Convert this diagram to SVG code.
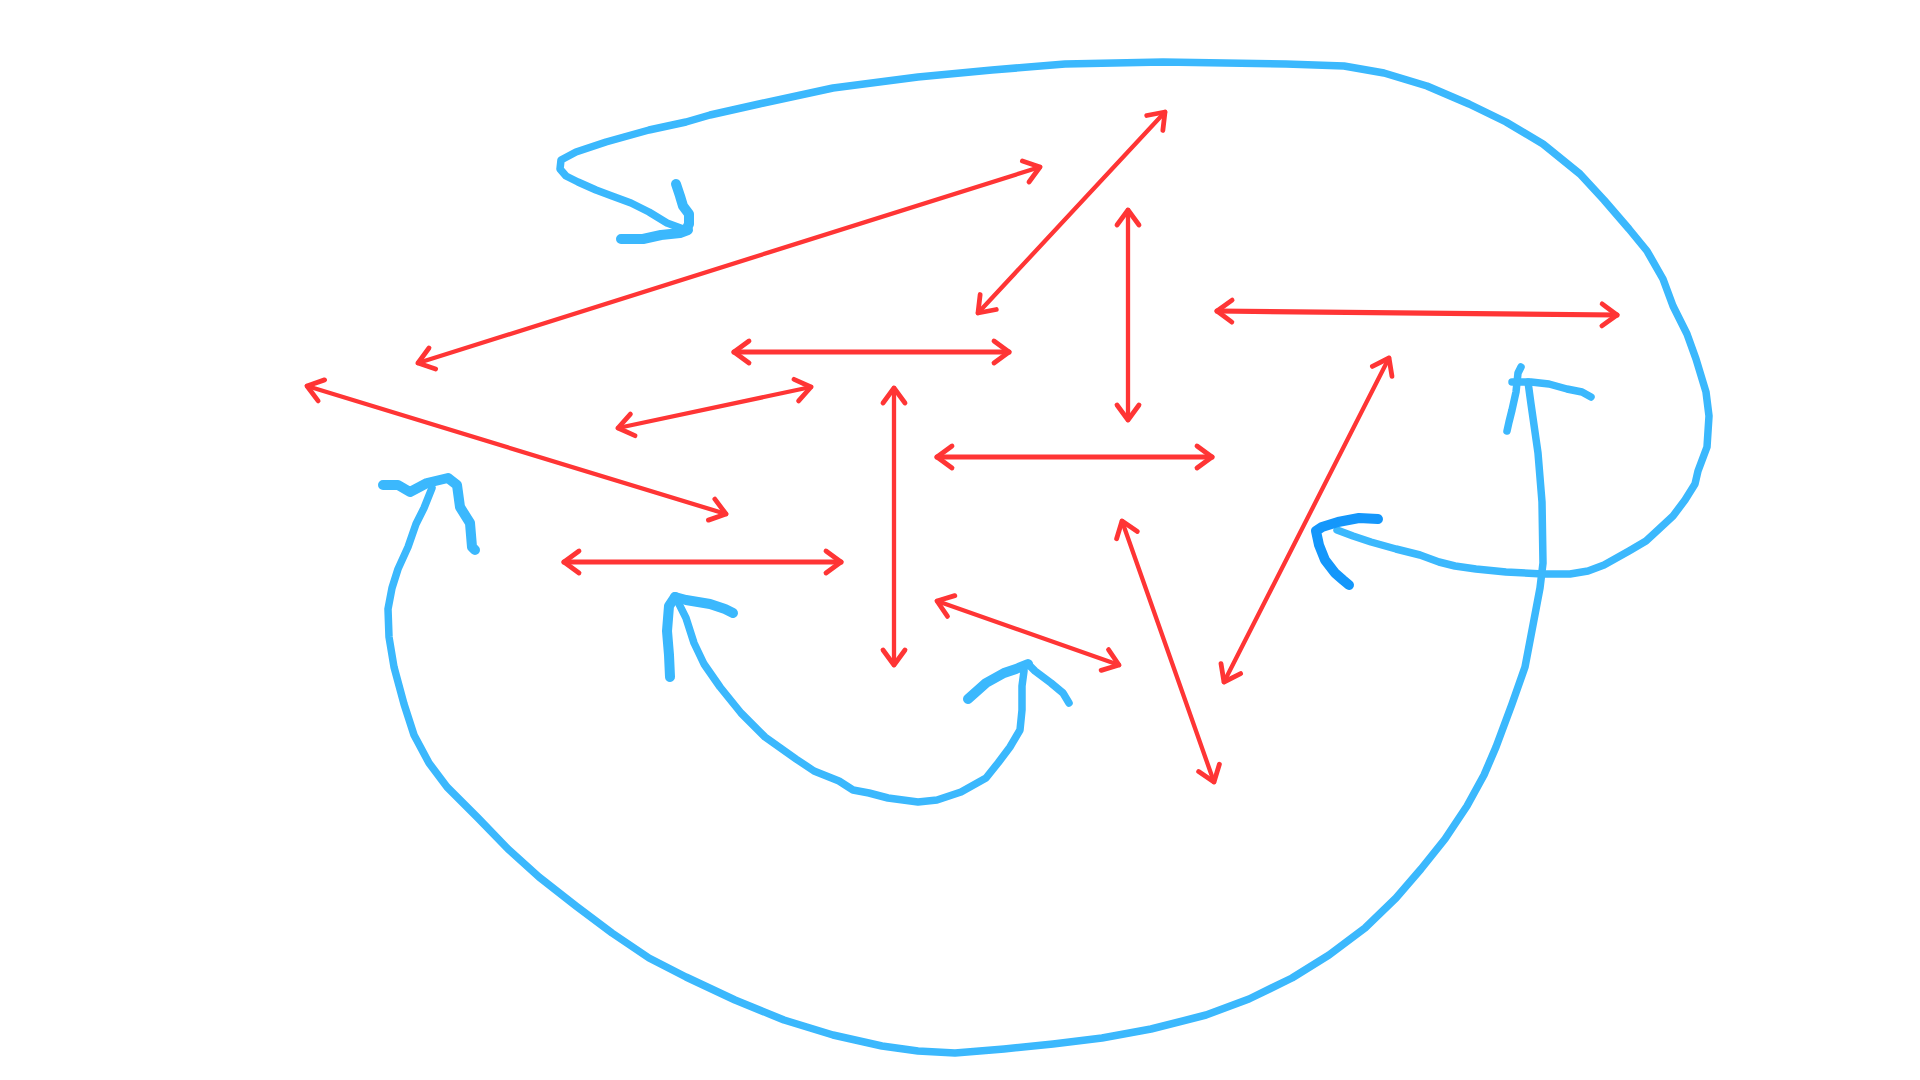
<svg xmlns="http://www.w3.org/2000/svg" width="1920" height="1080" viewBox="0 0 1920 1080">
<defs>
<style>
.r{stroke:#ff3535;stroke-width:4.3;fill:none;stroke-linecap:round;stroke-linejoin:round;marker-start:url(#ah);marker-end:url(#ah)}
.rt{stroke-width:5.2}
.b{stroke:#3bb8fd;stroke-width:7.5;fill:none;stroke-linecap:round;stroke-linejoin:round}
.bh{stroke-width:10}
.bd{stroke:#1497fb}
</style>
<marker id="ah" viewBox="-22 -16 28 32" markerWidth="28" markerHeight="32" refX="0" refY="0" markerUnits="userSpaceOnUse" orient="auto-start-reverse">
<path d="M-15,-11 L0,0 L-15,11" fill="none" stroke="#ff3535" stroke-width="4.8" stroke-linecap="round" stroke-linejoin="round"/>
</marker>
</defs>
<rect width="1920" height="1080" fill="#ffffff"/>
<g id="connectors">
<g id="red-arrows">
<line id="a1" class="r" x1="418" y1="363" x2="1040" y2="167"/>
<line id="a2" class="r" x1="978" y1="313" x2="1165" y2="112"/>
<line id="a3" class="r" x1="1128" y1="210" x2="1128" y2="420"/>
<line id="a4" class="r rt" x1="734" y1="352" x2="1009" y2="352"/>
<line id="a5" class="r rt" x1="1217" y1="311" x2="1617" y2="315"/>
<line id="a6" class="r" x1="618" y1="428" x2="811" y2="387"/>
<line id="a7" class="r" x1="307" y1="386" x2="726" y2="514"/>
<line id="a8" class="r" x1="894" y1="388" x2="894" y2="665"/>
<line id="a9" class="r rt" x1="937" y1="457" x2="1212" y2="457"/>
<line id="a10" class="r rt" x1="564" y1="562" x2="841" y2="562"/>
<line id="a11" class="r" x1="937" y1="601" x2="1119" y2="665"/>
<line id="a12" class="r" x1="1122" y1="521" x2="1214" y2="782"/>
<line id="a13" class="r" x1="1224" y1="682" x2="1389" y2="358"/>
</g>
<g id="blue-top-loop">
<polyline class="b" points="686,230 667,223 649,212 631,203 612,196 596,190 578,182 566,176 560,169 561,160 576,152 606,142 649,130 686,122 710,115 759,104 833,88 918,77 992,70 1065,64 1163,62 1286,64 1344,66 1384,73 1427,86 1469,104 1506,122 1543,144 1580,174 1604,200 1629,229 1647,251 1663,279 1673,306 1687,334 1696,359 1706,392 1709,416 1707,447 1698,471 1695,484 1685,500 1673,516 1659,529 1646,541 1629,551 1604,565 1588,571 1570,574 1543,574 1506,572 1476,569 1455,566 1439,562 1420,555 1396,549 1371,542 1353,536 1337,530"/>
<polyline class="b bh" points="676,184 680,196 683,206 689,214 689,224 686,230"/>
<polyline class="b bh" points="621,239 643,239 661,235 680,233 688,230"/>
<polyline class="b bh bd" points="1378,519 1359,518 1338,522 1322,527 1316,531 1319,545 1325,560 1335,573 1343,580 1349,585"/>
</g>
<g id="blue-bottom-loop">
<polyline class="b" points="432,488 424,508 416,524 408,547 398,569 392,588 388,609 389,637 394,667 404,704 414,735 429,763 447,787 478,818 508,849 539,877 576,906 612,933 649,958 686,977 735,1000 784,1020 833,1035 882,1046 918,1051 955,1053 1004,1049 1053,1044 1102,1038 1151,1029 1206,1015 1249,999 1292,978 1329,955 1365,928 1396,898 1421,869 1445,839 1467,806 1484,775 1496,747 1512,704 1525,667 1533,625 1540,588 1543,563 1542,502 1538,453 1531,404 1528,382"/>
<polyline class="b bh" points="383,485 398,485 410,492 427,483 448,478 457,485 460,507 470,523 472,547 475,550"/>
<polyline class="b" points="1507,431 1509,422 1512,410 1516,392 1518,373 1521,367"/>
<polyline class="b" points="1512,382 1531,382 1549,384 1567,389 1582,392 1591,397"/>
</g>
<g id="blue-small-loop">
<polyline class="b" points="677,600 686,618 694,643 704,664 720,687 741,713 765,737 796,759 814,771 839,781 853,790 869,793 888,798 918,802 937,800 961,792 986,778 998,763 1010,747 1020,730 1022,710 1022,686 1024,671"/>
<polyline class="b bh" points="670,677 669,655 667,631 669,606 675,597"/>
<polyline class="b bh" points="675,597 686,600 710,604 725,609 733,613"/>
<polyline class="b bh" points="968,699 986,683 1004,673 1016,669 1028,664"/>
<polyline class="b" points="1028,664 1035,671 1051,683 1063,693 1069,703"/>
</g>
</g>
</svg>
